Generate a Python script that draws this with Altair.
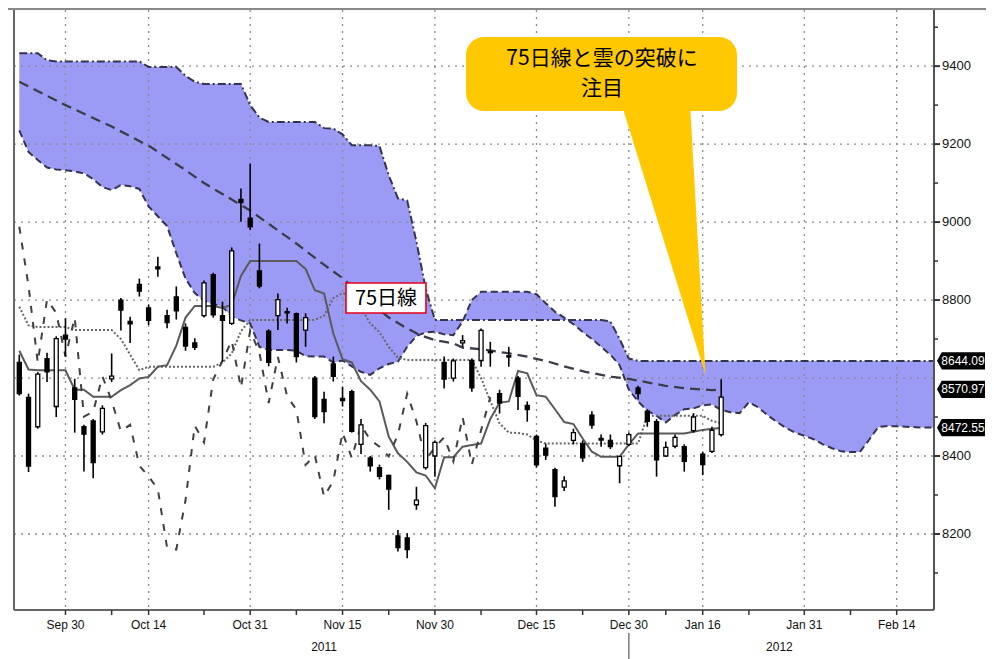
import altair as alt
import pandas as pd

# ---------------- data ----------------
# trading-day index 0 = 2011-09-22 ... 76 = 2012-01-18
opens = [8640, 8550, 8475, 8650, 8527, 8710, 8575, 8475, 8490, 8462,
         8598, 8800, 8745, 8840, 8780, 8885, 8760, 8808, 8730, 8690,
         8760, 8865, 8760, 8740, 9058, 9010, 8875, 8720, 8760, 8770,
         8765, 8723, 8600, 8545, 8636, 8548, 8565, 8430, 8395, 8370,
         8350, 8195, 8190, 8275, 8370, 8400, 8640, 8600, 8690, 8645,
         8645, 8668, 8560, 8657, 8600, 8530, 8450, 8420, 8365, 8320,
         8440, 8432, 8505, 8445, 8440, 8375, 8430, 8575, 8515, 8488,
         8400, 8425, 8424, 8465, 8405, 8412, 8455]
highs = [8660, 8560, 8615, 8665, 8707, 8753, 8598, 8480, 8495, 8530,
         8663, 8805, 8757, 8855, 8788, 8911, 8775, 8835, 8740, 8702,
         8850, 8870, 8796, 8935, 9086, 9150, 8945, 8725, 8817, 8780,
         8768, 8766, 8605, 8565, 8655, 8578, 8570, 8495, 8400, 8378,
         8352, 8210, 8202, 8321, 8485, 8440, 8655, 8650, 8710, 8650,
         8727, 8693, 8570, 8680, 8605, 8540, 8455, 8432, 8370, 8348,
         8470, 8440, 8515, 8455, 8455, 8400, 8460, 8580, 8520, 8495,
         8437, 8455, 8430, 8510, 8410, 8475, 8597]
lows = [8555, 8359, 8470, 8590, 8500, 8655, 8460, 8360, 8343, 8455,
        8590, 8722, 8690, 8809, 8736, 8860, 8728, 8750, 8670, 8672,
        8755, 8755, 8642, 8736, 9001, 8980, 8830, 8630, 8723, 8740,
        8640, 8680, 8495, 8484, 8591, 8527, 8460, 8405, 8360, 8340,
        8262, 8155, 8138, 8262, 8365, 8347, 8573, 8591, 8680, 8565,
        8629, 8629, 8509, 8629, 8518, 8488, 8370, 8390, 8270, 8310,
        8430, 8385, 8470, 8424, 8418, 8330, 8425, 8545, 8475, 8347,
        8398, 8420, 8360, 8460, 8351, 8408, 8450]
closes = [8560, 8374, 8610, 8616, 8701, 8700, 8545, 8456, 8383, 8522,
          8605, 8774, 8739, 8823, 8748, 8880, 8742, 8772, 8682, 8679,
          8844, 8762, 8748, 8926, 9050, 8988, 8836, 8640, 8801, 8767,
          8655, 8755, 8501, 8514, 8604, 8542, 8463, 8480, 8375, 8348,
          8315, 8165, 8160, 8287, 8478, 8435, 8597, 8644, 8696, 8575,
          8722, 8665, 8536, 8654, 8553, 8519, 8377, 8402, 8296, 8336,
          8460, 8395, 8479, 8441, 8424, 8399, 8455, 8560, 8489, 8390,
          8422, 8448, 8386, 8500, 8378, 8466, 8551]

# conversion line (solid) and base line (dotted)
tenkan = [8670, 8622, 8620, 8620, 8620, 8620, 8570, 8570, 8552, 8552,
          8552, 8569, 8582, 8599, 8603, 8629, 8633, 8683, 8755, 8785,
          8785, 8785, 8780, 8788, 8862, 8900, 8900, 8900, 8900, 8900,
          8900, 8880, 8825, 8817, 8714, 8648, 8640, 8592, 8570, 8540,
          8450, 8407, 8385, 8358, 8350, 8317, 8397, 8397, 8424, 8428,
          8432, 8495, 8537, 8540, 8618, 8612, 8556, 8552, 8520, 8487,
          8482, 8445, 8411, 8398, 8398, 8398, 8430, 8458, 8458, 8458,
          8458, 8458, 8458, 8462, 8467, 8470, 8472]
kijun = [8783, 8735, 8731, 8731, 8731, 8731, 8723, 8723, 8723, 8723,
         8723, 8700, 8660, 8620, 8629, 8629, 8629, 8629, 8629, 8629,
         8629, 8629, 8640, 8663, 8720, 8749, 8749, 8749, 8749, 8749,
         8749, 8749, 8749, 8760, 8805, 8818, 8810, 8780, 8740, 8718,
         8680, 8652, 8646, 8646, 8646, 8646, 8646, 8646, 8646, 8646,
         8600, 8541, 8484, 8460, 8459, 8455, 8440, 8432, 8432, 8432,
         8432, 8432, 8432, 8432, 8432, 8432, 8432, 8432, 8503, 8503,
         8503, 8503, 8503, 8503, 8503, 8490, 8484]
lag_shift = 25  # lagging span = close plotted 25 sessions back

# leading spans (cloud), index 0..99
span_a = [9235, 9180, 9159, 9140, 9135, 9133, 9130, 9125, 9110, 9090,
          9082, 9095, 9092, 9085, 9040, 9015, 8990, 8920, 8855, 8818,
          8798, 8790, 8783, 8757, 8748, 8740, 8680, 8672, 8672, 8672,
          8670, 8656, 8655, 8655, 8640, 8645, 8630, 8616, 8608, 8625,
          8636, 8642, 8680, 8708, 8717, 8719, 8712, 8710, 8745, 8800,
          8821, 8821, 8821, 8821, 8821, 8821, 8815, 8792, 8770, 8755,
          8738, 8718, 8700, 8680, 8660, 8633, 8570, 8540, 8516, 8503,
          8486, 8505, 8520, 8522, 8530, 8532, 8518, 8512, 8510, 8538,
          8525, 8505, 8488, 8472, 8460, 8452, 8443, 8430, 8420, 8412,
          8410, 8410, 8441, 8474, 8477, 8476, 8475, 8474, 8473, 8473]
span_b = [9433, 9433, 9433, 9415, 9412, 9412, 9412, 9412, 9412, 9412,
          9412, 9412, 9412, 9412, 9398, 9398, 9398, 9398, 9375, 9360,
          9354, 9354, 9354, 9354, 9354, 9300, 9268, 9257, 9257, 9257,
          9257, 9257, 9257, 9241, 9240, 9225, 9197, 9197, 9197, 9195,
          9120, 9061, 9055, 8950, 8830, 8749, 8749, 8749, 8749, 8749,
          8749, 8749, 8749, 8749, 8749, 8749, 8749, 8749, 8749, 8749,
          8749, 8749, 8749, 8749, 8745, 8700, 8650, 8644, 8644, 8644,
          8644, 8644, 8644, 8644, 8644, 8644, 8644, 8644, 8644, 8644,
          8644, 8644, 8644, 8644, 8644, 8644, 8644, 8644, 8644, 8644,
          8644, 8644, 8644, 8644, 8644, 8644, 8644, 8644, 8644, 8644]

# 75-day moving average (read points)
ma_idx = [0, 5, 10, 14.2, 17.7, 20, 24.9, 30, 32.8, 34.9, 37.5, 39.9, 41.7,
          43.4, 45, 47, 48, 50, 53.1, 55, 57.3, 59, 61.3, 64.2, 66, 68.4,
          70, 72, 75, 76]
ma_val = [9360, 9300, 9245, 9193, 9138, 9100, 9031, 8945, 8894, 8858, 8805,
          8757, 8731, 8710, 8697, 8689, 8678, 8674, 8663, 8655, 8642, 8630,
          8616, 8603, 8598, 8587, 8580, 8574, 8569, 8571]

# axis labels
tick_idx = [5, 14, 25, 35, 45, 56, 66, 74, 85, 95]
tick_lbl = ["Sep 30", "Oct 14", "Oct 31", "Nov 15", "Nov 30", "Dec 15",
            "Dec 30", "Jan 16", "Jan 31", "Feb 14"]
minor_idx = [10, 20, 30, 40, 50, 61, 70, 79, 90]
year_lbl = ["2011", "2012"]
year_pos = [33, 82.3]
year_break = [66]
y_major = [8200, 8400, 8800, 9000, 9200, 9400]
y_major_lbl = ["8200", "8400", "8800", "9000", "9200", "9400"]
y_minor = [8100, 8300, 8500, 8700, 8900, 9100, 9300, 9500]
y_grid = [8200, 8400, 8600, 8800, 9000, 9200, 9400]
end_vals = [8644.09, 8570.97, 8472.55]
end_txt = ["8644.09", "8570.97", "8472.55"]

callout_lines = ["75日線と雲の突破に", "注目"]
ma_label = "75日線"
# pointer of the callout, in chart units (price, left idx, right idx)
ptr_v = [9313, 8608]
ptr_l = [65.07, 74.3]
ptr_r = [72.6, 74.3]

# ---------------- chart ----------------
NUMF = "Liberation Sans"
CJK = "Noto Sans CJK JP"
CLOUD = "#9b9bf6"
EDGE = "#34344e"
W, H = 920, 600

xs = alt.Scale(domain=[-0.032, 98.5], nice=False, zero=False)
ys = alt.Scale(domain=[8005, 9544], nice=False, zero=False)

n = len(closes)
candles = pd.DataFrame({"i": list(range(n)), "o": opens, "h": highs, "l": lows, "c": closes})
candles["dir"] = ["up" if c >= o else "down" for o, c in zip(opens, closes)]
cloud = pd.DataFrame({"i": list(range(len(span_a))), "a": span_a, "b": span_b})
lines = pd.DataFrame({"i": list(range(n)), "tenkan": tenkan, "kijun": kijun})
lag = pd.DataFrame({"i": list(range(n - lag_shift)), "v": closes[lag_shift:]})
ma = pd.DataFrame({"i": ma_idx, "v": ma_val})
vgrid = pd.DataFrame({"i": tick_idx})
xlab = pd.DataFrame({"i": tick_idx, "t": tick_lbl})
xticks = pd.DataFrame({"i": tick_idx + minor_idx})
hgrid = pd.DataFrame({"v": y_grid})
ylab = pd.DataFrame({"v": y_major, "t": y_major_lbl})
yminor = pd.DataFrame({"v": y_minor})
years = pd.DataFrame({"i": year_pos, "t": year_lbl})
ybreak = pd.DataFrame({"i": year_break})
ends = pd.DataFrame({"v": end_vals, "t": end_txt})
ptr = pd.DataFrame({"v": ptr_v, "l": ptr_l, "r": ptr_r})
one = pd.DataFrame({"k": [0]})

X = lambda f, **k: alt.X(f, scale=xs, axis=None, **k)
Y = lambda f, **k: alt.Y(f, scale=ys, axis=None, **k)

cloud_fill = alt.Chart(cloud).mark_area(color=CLOUD, opacity=1, clip=True).encode(
    x=X("i:Q"), y=Y("a:Q"), y2="b:Q")
edge_a = alt.Chart(cloud).mark_line(color=EDGE, strokeWidth=2, strokeDash=[7, 4], clip=True).encode(
    x=X("i:Q"), y=Y("a:Q"))
edge_b = alt.Chart(cloud).mark_line(color=EDGE, strokeWidth=2, strokeDash=[8, 3, 2, 3], clip=True).encode(
    x=X("i:Q"), y=Y("b:Q"))

grid_v = alt.Chart(vgrid).mark_rule(color="#8a8a8a", strokeWidth=1.3, strokeDash=[2, 5]).encode(
    x=X("i:Q"), y=alt.value(0), y2=alt.value(H))
grid_h = alt.Chart(hgrid).mark_rule(color="#8a8a8a", strokeWidth=1.3, strokeDash=[2, 5]).encode(
    y=Y("v:Q"), x=alt.value(0), x2=alt.value(W))

ma_line = alt.Chart(ma).mark_line(color="#3c3c48", strokeWidth=2.3, strokeDash=[10, 6], clip=True).encode(
    x=X("i:Q"), y=Y("v:Q"))
kijun_line = alt.Chart(lines).mark_line(color="#666666", strokeWidth=2, strokeDash=[2, 2], clip=True).encode(
    x=X("i:Q"), y=Y("kijun:Q"))
tenkan_line = alt.Chart(lines).mark_line(color="#5a5a5a", strokeWidth=2, clip=True).encode(
    x=X("i:Q"), y=Y("tenkan:Q"))
lag_line = alt.Chart(lag).mark_line(color="#404040", strokeWidth=2, strokeDash=[7, 9], clip=True).encode(
    x=X("i:Q"), y=Y("v:Q"))

wicks = alt.Chart(candles).mark_rule(color="black", strokeWidth=1.6, clip=True).encode(
    x=X("i:Q"), y=Y("l:Q"), y2="h:Q")
bodies = alt.Chart(candles).mark_bar(size=4, stroke="black", strokeWidth=1.3, clip=True).encode(
    x=X("i:Q"), y=Y("o:Q"), y2="c:Q",
    color=alt.Color("dir:N", scale=alt.Scale(domain=["up", "down"], range=["#ffffff", "#000000"]), legend=None))

# frame / axes drawn from the tick arrays
left_line = alt.Chart(one).mark_rule(color="#666", strokeWidth=2).encode(
    x=alt.value(0), y=alt.value(0), y2=alt.value(H))
bottom_line = alt.Chart(one).mark_rule(color="#666", strokeWidth=2).encode(
    x=alt.value(0), x2=alt.value(W), y=alt.value(H))
right_line = alt.Chart(one).mark_rule(color="#555", strokeWidth=2).encode(
    x=alt.value(W), y=alt.value(0), y2=alt.value(H))
top_line = alt.Chart(one).mark_rule(color="#888", strokeWidth=2).encode(
    x=alt.value(-6), x2=alt.value(972), y=alt.value(-1))

x_ticks = alt.Chart(xticks).mark_rule(color="#333", strokeWidth=1.5).encode(
    x=X("i:Q"), y=alt.value(H), y2=alt.value(H + 5))
x_labels = alt.Chart(xlab).mark_text(font=NUMF, fontSize=12, color="#111", baseline="middle").encode(
    x=X("i:Q"), y=alt.value(H + 15), text="t:N")
y_ticks_major = alt.Chart(ylab).mark_rule(color="#333", strokeWidth=2).encode(
    y=Y("v:Q"), x=alt.value(W), x2=alt.value(W + 6))
y_ticks_minor = alt.Chart(yminor).mark_rule(color="#333", strokeWidth=1.5).encode(
    y=Y("v:Q"), x=alt.value(W), x2=alt.value(W + 4))
y_labels = alt.Chart(ylab).mark_text(font=NUMF, fontSize=13, color="#111", baseline="middle", align="left").encode(
    y=Y("v:Q"), x=alt.value(W + 8), text="t:N")

year_text = alt.Chart(years).mark_text(font=NUMF, fontSize=12, color="#111", baseline="middle").encode(
    x=X("i:Q"), y=alt.value(637), text="t:N")
year_rule = alt.Chart(ybreak).mark_rule(color="#666", strokeWidth=1.3).encode(
    x=X("i:Q"), y=alt.value(623), y2=alt.value(651))

# end-value tags on the right
tag_path = "M-1,0 L-0.8,-0.36 L1,-0.36 L1,0.36 L-0.8,0.36 Z"
tags = alt.Chart(ends).mark_point(shape=tag_path, filled=True, color="black", opacity=1, size=2304).encode(
    x=alt.value(947), y=Y("v:Q"))
tag_text = alt.Chart(ends).mark_text(font=NUMF, fontSize=12, color="white", baseline="middle").encode(
    x=alt.value(949), y=Y("v:Q"), text="t:N")

# "75日線" label
ma_box = alt.Chart(one).mark_rect(fill="white", stroke="#e3001b", strokeWidth=1.6).encode(
    x=alt.value(332), x2=alt.value(412), y=alt.value(273), y2=alt.value(303))
ma_txt = alt.Chart(one).mark_text(font=CJK, fontSize=20, color="black", baseline="middle").encode(
    x=alt.value(372), y=alt.value(289), text=alt.value(ma_label))

# callout
call_ptr = alt.Chart(ptr).mark_area(orient="horizontal", color="#FFC800", opacity=1).encode(
    y=Y("v:Q"), x=X("l:Q"), x2="r:Q")
call_box = alt.Chart(one).mark_rect(color="#FFC800", cornerRadius=18, opacity=1).encode(
    x=alt.value(452), x2=alt.value(723), y=alt.value(27), y2=alt.value(101))
call_t1 = alt.Chart(one).mark_text(font=CJK, fontSize=21, color="black", baseline="middle").encode(
    x=alt.value(588), y=alt.value(49), text=alt.value(callout_lines[0]))
call_t2 = alt.Chart(one).mark_text(font=CJK, fontSize=21, color="black", baseline="middle").encode(
    x=alt.value(588), y=alt.value(79), text=alt.value(callout_lines[1]))

chart = alt.layer(
    cloud_fill, grid_v, grid_h, edge_a, edge_b, ma_line, kijun_line,
    tenkan_line, lag_line, wicks, bodies,
    left_line, bottom_line, right_line, top_line,
    x_ticks, x_labels, y_ticks_major, y_ticks_minor, y_labels,
    year_text, year_rule, tags, tag_text, ma_box, ma_txt, call_ptr, call_box,
    call_t1, call_t2
).properties(
    width=W, height=H,
    padding={"left": 6, "top": 2, "right": 52, "bottom": 49},
    autosize=alt.AutoSizeParams(type="none"),
    background="white",
).configure_view(stroke=None)

chart.save("out.html", embed_options={"renderer": "svg", "actions": False})
